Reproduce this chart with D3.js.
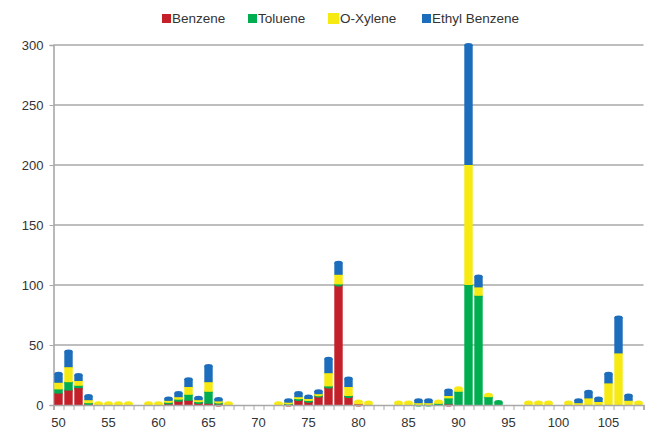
<!DOCTYPE html>
<html lang="en">
<head>
  <meta charset="UTF-8">
  <title>Stacked bars by m/z</title>
  <style>
    body { margin: 0; background: #fff; font-family: "Liberation Sans", Arial, sans-serif; }
    svg text { fill: #333; }
  </style>
</head>
<body>
  <svg id="chart" width="646" height="432"></svg>

  <script src="https://d3js.org/d3.v7.min.js"></script>
  <script>
    // m/z values on the x axis
    const massValues = d3.range(50, 109);
    const seriesNames = ["Benzene", "Toluene", "O-Xylene", "Ethyl Benzene"];
    const seriesColors = ["#c4202a", "#00ae4f", "#f6ea12", "#1c6ebd"];
    const yTicks = [0, 50, 100, 150, 200, 250, 300];
    const xLabels = [50, 55, 60, 65, 70, 75, 80, 85, 90, 95, 100, 105];

    // one value per m/z (50..108)
    const benzene = [
      9.5, 12, 14, 1, 0, 0, 0, 0, 0, 0,
      0, 1, 3, 3.5, 1.5, 1, 0.5, 0, 0, 0,
      0, 0, 0, 0.5, 4, 2.5, 7, 14.5, 100, 7,
      0.5, 0, 0, 0, 0, 0, 0, 0, 0, 0.5,
      0, 0, 0, 0, 0, 0, 0, 0, 0, 0,
      0, 0, 0, 0, 0, 0, 0, 0, 0
    ];
    const toluene = [
      3.5, 7, 2, 0.5, 0, 0, 0, 0, 0, 0,
      0, 1, 1.5, 5, 1, 10, 1.5, 0, 0, 0,
      0, 0, 0, 0.5, 1, 1, 1, 1, 0.5, 0.5,
      0, 0, 0, 0, 0, 0, 0.5, 0.5, 1, 5,
      11, 100, 91, 6.5, 2.5, 0, 0, 0, 0, 0,
      0, 0, 0, 0, 0, 0, 0, 0, 0
    ];
    const oXylene = [
      5.5, 12.5, 4, 2.5, 1.5, 1.5, 1.5, 1.5, 0, 1.5,
      1.5, 1.5, 2, 6.5, 1.5, 8, 1, 1.5, 0, 0,
      0, 0, 1.5, 1, 1.5, 1.5, 1, 11, 8, 7.5,
      2.5, 2, 0, 0, 2, 2, 1, 1, 2, 2,
      3, 100, 7, 2, 0, 0, 0, 2, 2, 2,
      0, 2, 1.5, 5.5, 2.5, 18, 43, 3.5, 2
    ];
    const ethylBenzene = [
      7.5, 13, 5, 3.5, 0, 0, 0, 0, 0, 0,
      0, 2, 3.5, 6.5, 2, 13.5, 2, 0, 0, 0,
      0, 0, 0, 2, 3.5, 2, 2.5, 12, 10, 7,
      0, 0, 0, 0, 0, 0, 2.5, 2.5, 0, 4.5,
      0, 100, 9, 0, 0, 0, 0, 0, 0, 0,
      0, 0, 2.5, 5.5, 3, 8, 30, 4.5, 0
    ];

    const rows = massValues.map((m, i) => ({
      mass: m,
      "Benzene": benzene[i],
      "Toluene": toluene[i],
      "O-Xylene": oXylene[i],
      "Ethyl Benzene": ethylBenzene[i]
    }));

    const svg = d3.select("#chart");
    const margin = { top: 45, right: 2.5, bottom: 27, left: 53.5 };
    const width = 646 - margin.left - margin.right;
    const height = 432 - margin.top - margin.bottom;
    const g = svg.append("g").attr("transform", `translate(${margin.left},${margin.top})`);

    const x = d3.scaleBand().domain(massValues).range([0, width]).paddingInner(0.16).paddingOuter(0.08);
    const xEdge = d3.scaleLinear().domain([49.5, 108.5]).range([0, width]);
    const y = d3.scaleLinear().domain([0, 300]).range([height, 0]);
    const color = d3.scaleOrdinal().domain(seriesNames).range(seriesColors);

    // gridlines
    g.selectAll(".grid")
      .data(yTicks.filter(t => t > 0))
      .enter().append("line")
      .attr("x1", 0).attr("x2", width)
      .attr("y1", d => y(d)).attr("y2", d => y(d))
      .attr("stroke", "#a8a8a8").attr("stroke-width", 1.6);

    // y axis
    const yAxis = g.append("g").call(d3.axisLeft(y).tickValues(yTicks).tickSize(4).tickPadding(6));
    yAxis.select(".domain").attr("stroke", "#a8a8a8").attr("stroke-width", 1.6);
    yAxis.selectAll(".tick line").attr("stroke", "#a8a8a8");
    yAxis.selectAll("text").attr("font-size", 13).attr("font-family", "Liberation Sans, Arial, sans-serif").attr("fill", "#333");

    // stacked bars
    const stacked = d3.stack().keys(seriesNames)(rows);
    const layers = g.selectAll(".layer")
      .data(stacked)
      .enter().append("g")
      .attr("fill", d => color(d.key));

    layers.selectAll("rect")
      .data(d => d.filter(s => s[1] - s[0] > 0))
      .enter().append("rect")
      .attr("x", d => x(d.data.mass))
      .attr("width", x.bandwidth())
      .attr("y", d => y(d[1]))
      .attr("height", d => y(d[0]) - y(d[1]));

    // rounded caps on each segment, like the bevelled look of the original
    layers.selectAll("ellipse")
      .data(d => d.filter(s => s[1] - s[0] > 0))
      .enter().append("ellipse")
      .attr("cx", d => x(d.data.mass) + x.bandwidth() / 2)
      .attr("cy", d => y(d[1]))
      .attr("rx", x.bandwidth() / 2)
      .attr("ry", 2);

    // x axis
    const xAxis = g.append("g")
      .attr("transform", `translate(0,${height})`)
      .call(d3.axisBottom(xEdge).tickValues(d3.range(49.5, 109.5, 1)).tickFormat("").tickSize(5));
    xAxis.select(".domain").attr("stroke", "#a8a8a8").attr("stroke-width", 1.6);
    xAxis.selectAll(".tick line").attr("stroke", "#a8a8a8");

    g.selectAll(".xlabel")
      .data(xLabels)
      .enter().append("text")
      .attr("x", d => x(d) + x.bandwidth() / 2)
      .attr("y", height + 22)
      .attr("text-anchor", "middle")
      .attr("font-size", 13)
      .text(d => d);

    // legend
    const legendX = [162, 248, 328, 422];
    const legend = svg.selectAll(".legend")
      .data(seriesNames)
      .enter().append("g")
      .attr("transform", (d, i) => `translate(${legendX[i]},13)`);
    legend.append("rect")
      .attr("width", (d, i) => i === 2 ? 11 : 9)
      .attr("height", (d, i) => i === 2 ? 11 : 9)
      .attr("y", (d, i) => i === 2 ? 0 : 1)
      .attr("fill", d => color(d));
    legend.append("text")
      .attr("x", (d, i) => i === 2 ? 12 : 10)
      .attr("y", 10)
      .attr("font-size", 13.5)
      .text(d => d);
  </script>
</body>
</html>
